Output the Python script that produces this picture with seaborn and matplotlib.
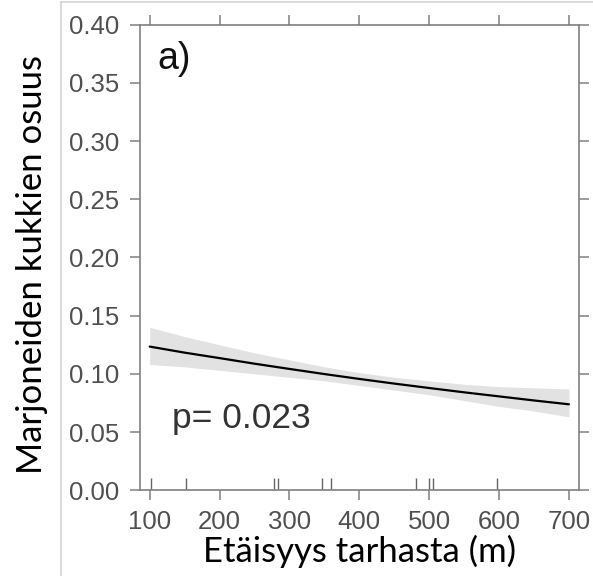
import seaborn as sns
import matplotlib.pyplot as plt
import matplotlib.lines as mlines
import pandas as pd

# data
distance = [100, 150, 200, 250, 300, 350, 400, 450, 500, 550, 600, 650, 700]
fit = [0.1234, 0.1182, 0.1135, 0.1087, 0.1042, 0.0998, 0.0956,
       0.0916, 0.0878, 0.0841, 0.0806, 0.0771, 0.0738]
lower = [0.108, 0.106, 0.103, 0.100, 0.097, 0.094, 0.090,
         0.086, 0.082, 0.077, 0.072, 0.068, 0.063]
upper = [0.140, 0.132, 0.125, 0.118, 0.112, 0.106, 0.101,
         0.097, 0.094, 0.091, 0.089, 0.088, 0.087]
rug_x = [102, 152, 278, 284, 347, 359, 481, 499, 505, 597]
x_ticks = [100, 200, 300, 400, 500, 600, 700]
y_ticks = [0.00, 0.05, 0.10, 0.15, 0.20, 0.25, 0.30, 0.35, 0.40]

df = pd.DataFrame({"dist": distance, "fit": fit, "lo": lower, "hi": upper})

sns.set_style("ticks")
plt.rcParams['font.family'] = ['Liberation Sans', 'DejaVu Sans']

fig = plt.figure(figsize=(5.93, 5.76), dpi=100)
ax = fig.add_axes([0.236, 0.149, 0.740, 0.808])

grey = "#808080"
ax.fill_between(df["dist"], df["lo"], df["hi"], color="#e2e2e2", lw=0)
sns.lineplot(data=df, x="dist", y="fit", color="black", lw=1.6, ax=ax)
sns.rugplot(x=rug_x, height=0.027, color="#666666", lw=1.0, ax=ax)

ax.set_xlim(86, 714)
ax.set_ylim(0, 0.40)
ax.set_xticks(x_ticks)
ax.set_yticks(y_ticks)
ax.set_yticklabels([f"{v:.2f}" for v in y_ticks])

for s in ax.spines.values():
    s.set_color(grey)
    s.set_linewidth(1.2)
ax.tick_params(axis="both", which="both", direction="out", length=7, width=1.1,
               color=grey, labelcolor="#505050", labelsize=18.5,
               top=True, right=True, labeltop=False, labelright=False)
ax.tick_params(axis="y", pad=8)
ax.tick_params(axis="x", pad=7)

ax.set_xlabel("Etäisyys tarhasta (m)", fontsize=25, family=["Lato", "DejaVu Sans"], color="black")
ax.set_ylabel("Marjoneiden kukkien osuus", fontsize=25, family=["Lato", "DejaVu Sans"], color="black")
ax.xaxis.set_label_coords(0.50, -0.097)
ax.yaxis.set_label_coords(-0.21, 0.484)

ax.text(0.039, 0.965, "a)", transform=ax.transAxes, fontsize=27, va="top", ha="left", color="#111111")
ax.text(0.073, 0.155, "p= 0.023", transform=ax.transAxes, fontsize=25.5, va="center", ha="left", color="#333333")

# light frame of the pasted panel
fx = 61 / 593
fig.add_artist(mlines.Line2D([fx, fx], [0, 1 - 2 / 576], color="#d4d4d4", lw=1.2))
fig.add_artist(mlines.Line2D([fx, 1], [1 - 2 / 576, 1 - 2 / 576], color="#d4d4d4", lw=1.2))

fig.savefig("out.png", dpi=100)
